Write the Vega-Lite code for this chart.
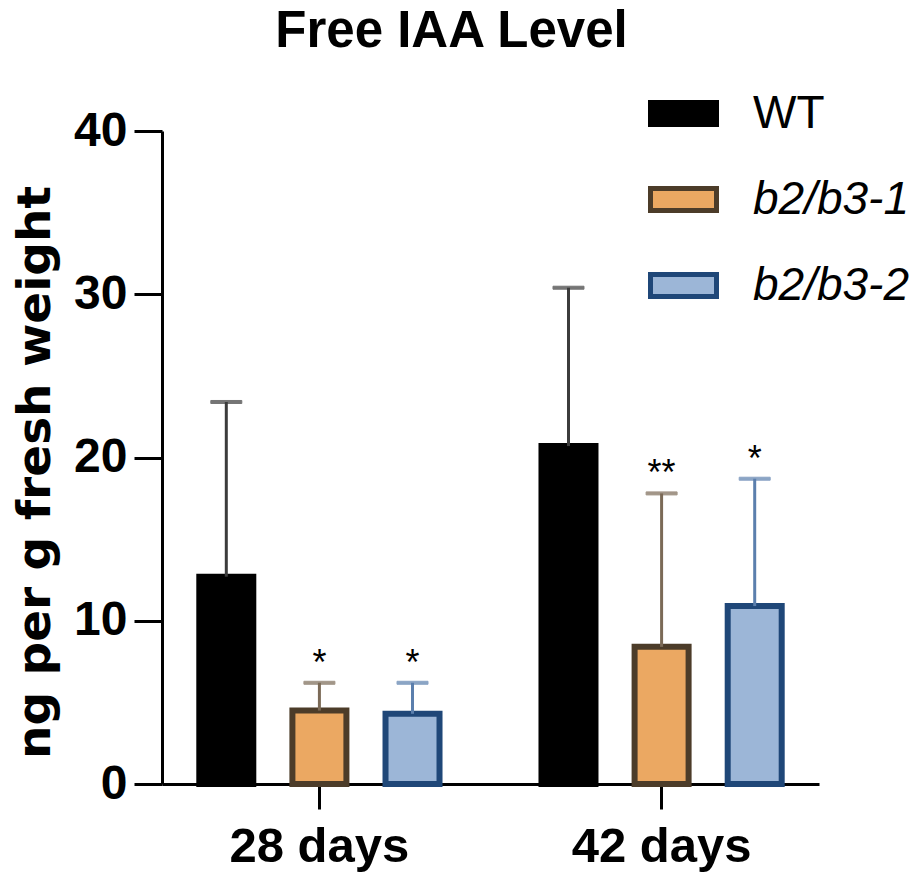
{
  "$schema": "https://vega.github.io/schema/vega-lite/v6.json",
  "width": 657,
  "height": 653,
  "autosize": {"type": "none"},
  "padding": {"left": 162, "top": 131, "right": 100, "bottom": 94},
  "background": "white",
  "title": {
    "text": "Free IAA Level",
    "font": "Liberation Sans",
    "fontSize": 51,
    "fontWeight": "bold",
    "color": "black",
    "anchor": "middle",
    "frame": "group",
    "baseline": "alphabetic",
    "dx": -39,
    "offset": -20
  },
  "config": {
    "view": {"stroke": null},
    "font": "Liberation Sans"
  },
  "data": {
    "values": [
      {"day": "28 days", "genotype": "WT", "mean": 12.7, "top": 23.4, "sig": ""},
      {"day": "28 days", "genotype": "b2/b3-1", "mean": 4.5, "top": 6.2, "sig": "*"},
      {"day": "28 days", "genotype": "b2/b3-2", "mean": 4.3, "top": 6.2, "sig": "*"},
      {"day": "42 days", "genotype": "WT", "mean": 20.7, "top": 30.4, "sig": ""},
      {"day": "42 days", "genotype": "b2/b3-1", "mean": 8.4, "top": 17.8, "sig": "**"},
      {"day": "42 days", "genotype": "b2/b3-2", "mean": 10.9, "top": 18.7, "sig": "*"}
    ]
  },
  "encoding": {
    "x": {
      "field": "day",
      "type": "nominal",
      "scale": {"paddingInner": 0.298, "paddingOuter": 0.109},
      "axis": {
        "title": null,
        "labelAngle": 0,
        "labelFont": "Liberation Sans",
        "labelFontSize": 49,
        "labelFontWeight": "bold",
        "labelColor": "black",
        "labelPadding": 13,
        "tickSize": 25,
        "tickWidth": 3,
        "tickColor": "black",
        "domainWidth": 3,
        "domainColor": "black"
      }
    },
    "xOffset": {
      "field": "genotype",
      "type": "nominal",
      "sort": ["WT", "b2/b3-1", "b2/b3-2"],
      "scale": {"paddingInner": 0.42, "paddingOuter": 0}
    }
  },
  "layer": [
    {
      "mark": {"type": "bar", "strokeWidth": 6},
      "encoding": {
        "y": {
          "field": "mean",
          "type": "quantitative",
          "scale": {"domain": [0, 40], "nice": false},
          "axis": {
            "title": "ng per g fresh weight",
            "titleFont": "DejaVu Sans",
            "titleFontSize": 47,
            "titleFontWeight": "bold",
            "titleColor": "black",
            "titlePadding": 14,
            "titleY": 341,
            "values": [0, 10, 20, 30, 40],
            "grid": false,
            "labelFont": "Liberation Sans",
            "labelFontSize": 48,
            "labelFontWeight": "bold",
            "labelColor": "black",
            "labelPadding": 7,
            "tickSize": 28,
            "tickWidth": 3,
            "tickColor": "black",
            "domainWidth": 3,
            "domainColor": "black"
          }
        },
        "fill": {
          "field": "genotype",
          "type": "nominal",
          "sort": ["WT", "b2/b3-1", "b2/b3-2"],
          "scale": {"domain": ["WT", "b2/b3-1", "b2/b3-2"], "range": ["#000000", "#EBA862", "#9CB6D7"]},
          "legend": {
            "title": null,
            "orient": "none",
            "legendX": 486,
            "legendY": -53,
            "padding": 0,
            "symbolType": "M-1,-0.333H1V0.333H-1Z",
            "symbolSize": 4356,
            "symbolStrokeWidth": 5,
            "symbolOpacity": 1,
            "labelFont": "Liberation Sans",
            "labelFontSize": 46,
            "labelLimit": 400,
            "labelColor": "black",
            "labelOffset": 34,
            "rowPadding": 27,
            "encode": {
              "labels": {
                "update": {
                  "fontStyle": {"signal": "datum.label === 'WT' ? 'normal' : 'italic'"}
                }
              }
            }
          }
        },
        "stroke": {
          "field": "genotype",
          "type": "nominal",
          "sort": ["WT", "b2/b3-1", "b2/b3-2"],
          "scale": {"domain": ["WT", "b2/b3-1", "b2/b3-2"], "range": ["#000000", "#4C3C29", "#1F4778"]},
          "legend": {
            "title": null,
            "orient": "none",
            "legendX": 486,
            "legendY": -53,
            "padding": 0,
            "symbolType": "M-1,-0.333H1V0.333H-1Z",
            "symbolSize": 4356,
            "symbolStrokeWidth": 5,
            "symbolOpacity": 1,
            "labelFont": "Liberation Sans",
            "labelFontSize": 46,
            "labelLimit": 400,
            "labelColor": "black",
            "labelOffset": 34,
            "rowPadding": 27,
            "encode": {
              "labels": {
                "update": {
                  "fontStyle": {"signal": "datum.label === 'WT' ? 'normal' : 'italic'"}
                }
              }
            }
          }
        }
      }
    },
    {
      "mark": {"type": "rule", "strokeWidth": 3},
      "encoding": {
        "y": {"field": "mean", "type": "quantitative"},
        "y2": {"field": "top"},
        "stroke": {
          "field": "genotype",
          "type": "nominal",
          "scale": {"domain": ["WT", "b2/b3-1", "b2/b3-2"], "range": ["#3C3C3C", "#7B6A57", "#5B7FAD"]},
          "legend": null
        }
      }
    },
    {
      "mark": {"type": "tick", "thickness": 3, "size": 31},
      "encoding": {
        "y": {"field": "top", "type": "quantitative"},
        "stroke": {
          "field": "genotype",
          "type": "nominal",
          "scale": {"domain": ["WT", "b2/b3-1", "b2/b3-2"], "range": ["#3C3C3C", "#7B6A57", "#5B7FAD"]},
          "legend": null
        },
        "fill": {
          "field": "genotype",
          "type": "nominal",
          "scale": {"domain": ["WT", "b2/b3-1", "b2/b3-2"], "range": ["#3C3C3C", "#7B6A57", "#5B7FAD"]},
          "legend": null
        }
      }
    },
    {
      "mark": {"type": "text", "font": "Liberation Sans", "fontSize": 36, "baseline": "alphabetic", "dy": -8, "color": "black"},
      "encoding": {
        "y": {"field": "top", "type": "quantitative"},
        "text": {"field": "sig"}
      }
    }
  ],
  "resolve": {"scale": {"stroke": "independent", "fill": "independent"}}
}
